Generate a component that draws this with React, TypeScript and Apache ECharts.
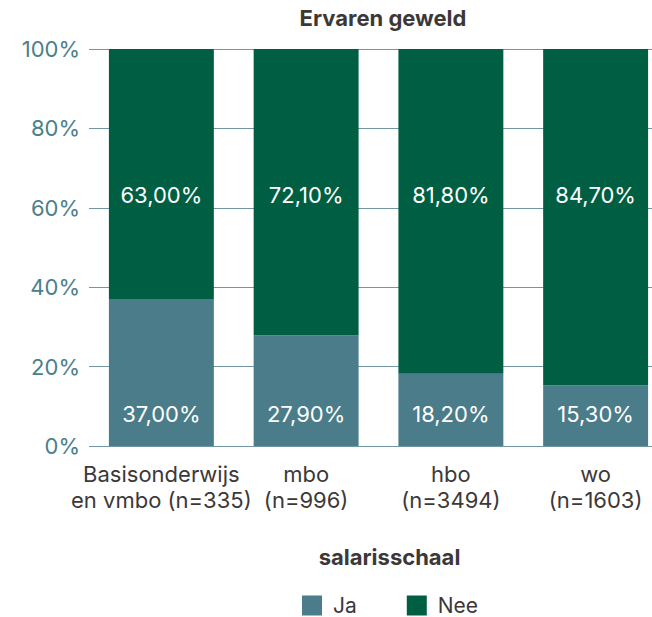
import React, { useEffect, useRef } from "react";
import * as echarts from "echarts";

const categories = [
  "Basisonderwijs\nen vmbo (n=335)",
  "mbo\n(n=996)",
  "hbo\n(n=3494)",
  "wo\n(n=1603)",
];
const jaValues = [37.0, 27.9, 18.2, 15.3];
const neeValues = [63.0, 72.1, 81.8, 84.7];
const seriesNames = ["Ja", "Nee"];
const titleText = "Ervaren geweld";
const xAxisName = "salarisschaal";

const FONT = "Inter, 'Noto Sans', sans-serif";
const fmt = (v: number) => v.toFixed(2).replace(".", ",") + "%";

export default function App() {
  const ref = useRef<HTMLDivElement>(null);
  useEffect(() => {
    if (!ref.current) return;
    const chart = echarts.init(ref.current, undefined, { renderer: "svg" });
    chart.setOption({
      animation: false,
      textStyle: { fontFamily: FONT },
      title: {
        text: titleText,
        left: 378,
        textAlign: "center",
        top: 2,
        textStyle: { fontFamily: FONT, fontSize: 22, fontWeight: "bold", color: "#3d3838" },
      },
      legend: {
        left: 302,
        top: 595,
        padding: 0,
        itemWidth: 20,
        itemHeight: 20,
        itemGap: 50,
        icon: "rect",
        textStyle: { fontFamily: FONT, fontSize: 21, color: "#3d3838", padding: [0, 0, 0, 6] },
        data: seriesNames,
      },
      grid: { left: 89, top: 49, width: 579, height: 397, containLabel: false },
      xAxis: {
        type: "category",
        data: categories,
        name: xAxisName,
        nameLocation: "middle",
        nameGap: 100,
        nameTextStyle: {
          fontFamily: FONT,
          fontSize: 22,
          fontWeight: "bold",
          color: "#3d3838",
          padding: [0, 0, 0, 22],
        },
        axisLine: { show: false },
        axisTick: { show: false },
        axisLabel: {
          margin: 15,
          fontFamily: FONT,
          fontSize: 22,
          lineHeight: 26,
          color: "#3d3838",
          interval: 0,
        },
      },
      yAxis: {
        type: "value",
        min: 0,
        max: 100,
        interval: 20,
        axisLabel: {
          formatter: "{value}%",
          fontFamily: FONT,
          fontSize: 22,
          color: "#4a808c",
          margin: 9,
        },
        axisLine: { show: false },
        axisTick: { show: false },
        splitLine: { lineStyle: { color: "#6f98a1", width: 1 } },
      },
      series: [
        {
          name: seriesNames[0],
          type: "bar",
          stack: "total",
          barWidth: "72.5%",
          data: jaValues,
          itemStyle: { color: "#4a7d89" },
          label: {
            show: true,
            position: "insideBottom",
            distance: 21,
            formatter: (p: any) => fmt(p.value),
            color: "#ffffff",
            fontFamily: FONT,
            fontSize: 22,
          },
        },
        {
          name: seriesNames[1],
          type: "bar",
          stack: "total",
          barWidth: "72.5%",
          data: neeValues,
          itemStyle: { color: "#005f43" },
          label: {
            show: true,
            position: "insideTop",
            distance: 135,
            formatter: (p: any) => fmt(p.value),
            color: "#ffffff",
            fontFamily: FONT,
            fontSize: 22,
          },
        },
      ],
    });
    return () => chart.dispose();
  }, []);
  return (
    <div style={{ position: "absolute", left: 0, top: 0, width: 652, height: 617, overflow: "hidden" }}>
      <div ref={ref} style={{ width: 680, height: 617 }} />
    </div>
  );
}
